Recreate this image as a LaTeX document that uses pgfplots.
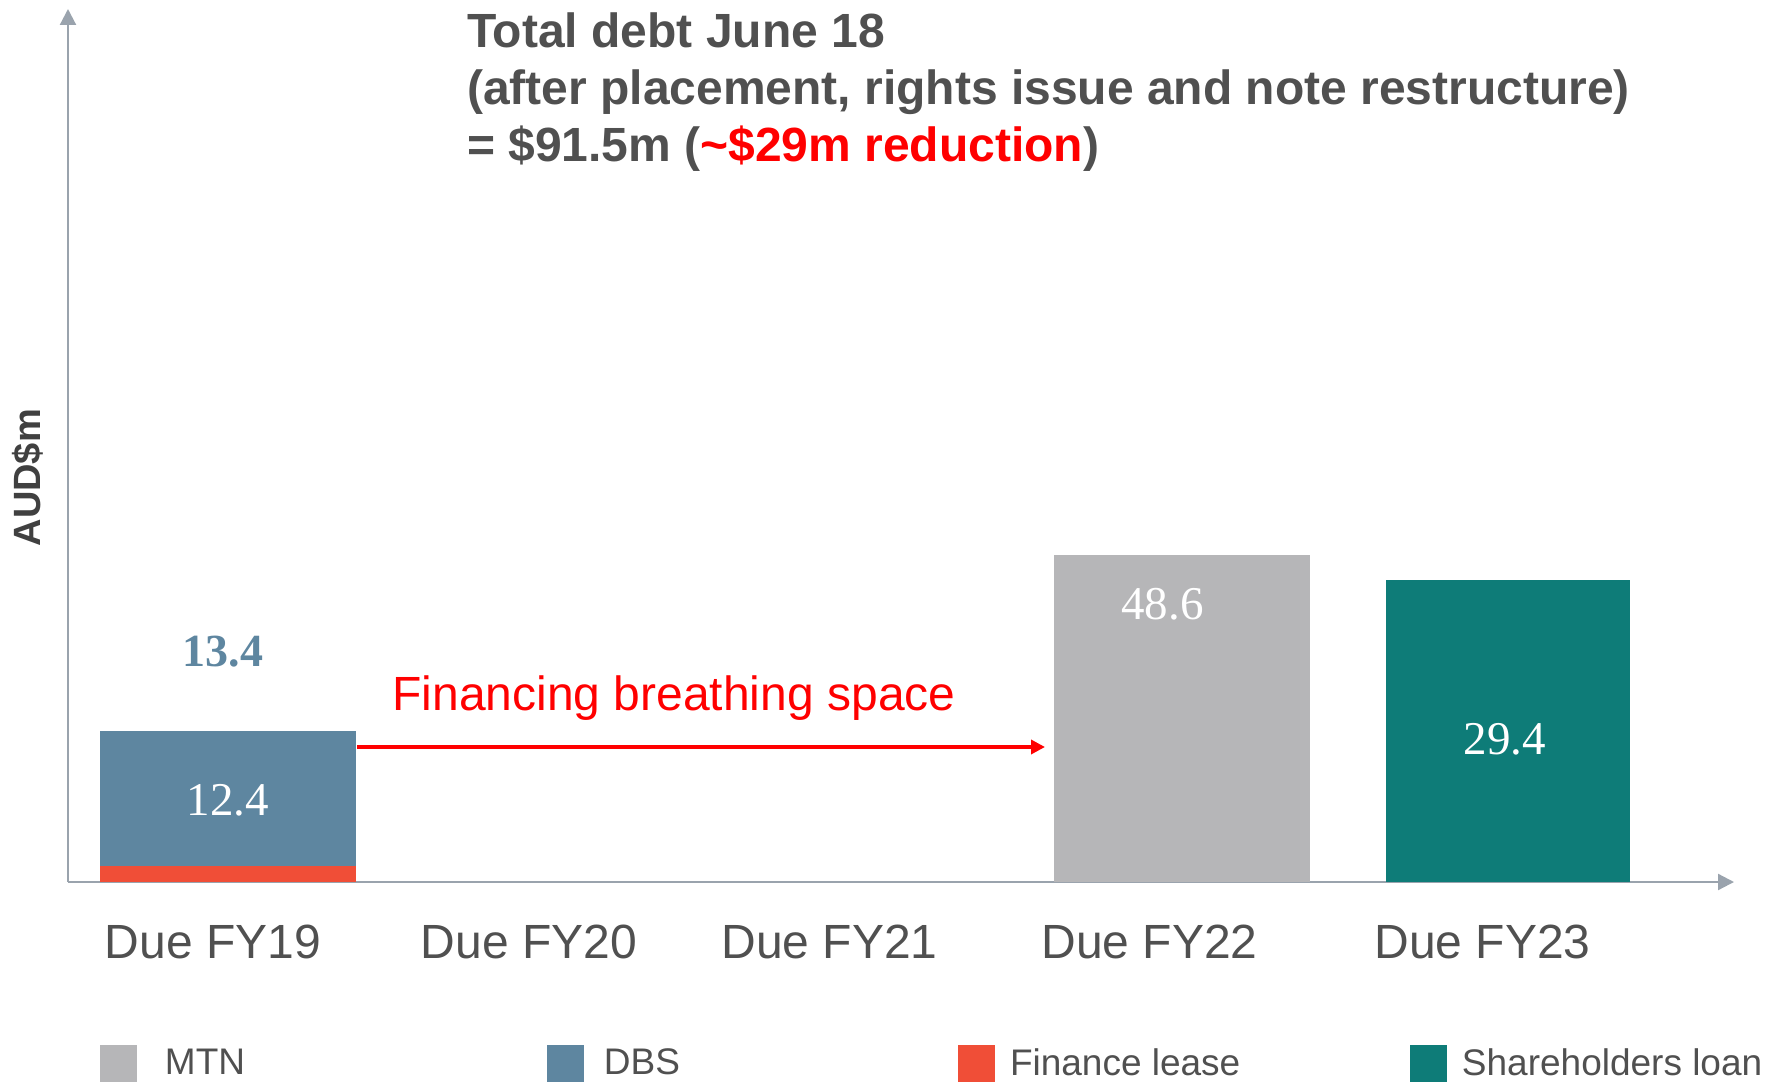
\documentclass[border=0pt]{standalone}
\usepackage{pgfplots}
\pgfplotsset{compat=1.18}
\usetikzlibrary{arrows.meta}
\usepackage{fontspec}
\setmainfont{Liberation Sans}
\newfontfamily\seriffont{Liberation Serif}
\definecolor{mtn}{HTML}{B6B6B8}
\definecolor{dbs}{HTML}{5E86A0}
\definecolor{lease}{HTML}{F04E37}
\definecolor{share}{HTML}{0E7C78}
\definecolor{txt}{HTML}{505050}
\definecolor{axgray}{HTML}{9AA3AD}
\definecolor{redtxt}{HTML}{FF0000}
\begin{document}
\begin{tikzpicture}[x=1pt,y=1pt]
\useasboundingbox (0,0) rectangle (888.5,541.5);
\begin{axis}[
  at={(34pt,100.5pt)}, anchor=south west,
  scale only axis, width=833pt, height=436.5pt,
  xmin=-0.5, xmax=4.706, ymin=0, ymax=87.3,
  axis lines=left,
  axis line style={draw=axgray, line width=1.1pt, -{Triangle[length=8pt,width=8pt]}},
  ybar stacked, bar width=0.8,
  every axis plot/.append style={draw=none},
  xtick={-0.047,0.94,1.88,2.88,3.92},
  xticklabels={Due FY19,Due FY20,Due FY21,Due FY22,Due FY23},
  ytick=\empty,
  major tick length=0pt,
  xticklabel style={anchor=center, yshift=-30pt, font=\fontsize{24}{24}\selectfont, text=txt},
  ylabel={AUD\$m},
  ylabel style={at={(axis description cs:-0.024,0.463)}, anchor=center, rotate=0, font=\bfseries\fontsize{19}{19}\selectfont, text=black!75},
  legend columns=4,
  legend style={draw=none, fill=none, inner sep=0pt, outer sep=0pt,
    at={(0.0192,-0.2075)}, anchor=west,
    nodes={inner sep=0pt, text=txt, font=\fontsize{18.5}{18.5}\selectfont},
    column sep=0pt,
    /tikz/every even column/.style={column sep=0pt},
    /tikz/every odd column/.style={column sep=0pt}},
]
% stacked bar heights as drawn (arbitrary units, no y scale shown)
\addplot[fill=lease, forget plot] coordinates {(0,1.6) (2.98,0) (4,0)};
\addplot[fill=dbs, forget plot] coordinates {(0,13.5) (2.98,0) (4,0)};
\addplot[fill=mtn, forget plot] coordinates {(0,0) (2.98,32.7) (4,0)};
\addplot[fill=share, forget plot, bar width=0.76] coordinates {(0,0) (2.98,0) (4,30.2)};

\addlegendimage{legend image code/.code={\fill[mtn] (0pt,-9.25pt) rectangle (18.5pt,9.25pt); \path (32.5pt,0pt);}}
\addlegendentry{MTN}
\addlegendimage{legend image code/.code={\path (-150.9pt,0pt); \fill[dbs] (0pt,-9.25pt) rectangle (18.5pt,9.25pt); \path (28.5pt,0pt);}}
\addlegendentry{DBS}
\addlegendimage{legend image code/.code={\path (-139pt,0pt); \fill[lease] (0pt,-9.25pt) rectangle (18.5pt,9.25pt); \path (26pt,0pt);}}
\addlegendentry{Finance lease}
\addlegendimage{legend image code/.code={\path (-84.8pt,0pt); \fill[share] (0pt,-9.25pt) rectangle (18.5pt,9.25pt); \path (26pt,0pt);}}
\addlegendentry{Shareholders loan}

\coordinate (lA) at (axis cs:-0.016,23.0);
\coordinate (lB) at (axis cs:0,8.2);
\coordinate (lC) at (axis cs:2.92,27.8);
\coordinate (lD) at (axis cs:3.99,14.3);
\end{axis}
% value labels
\node[text=dbs, font=\seriffont\bfseries\fontsize{23}{23}\selectfont] at (lA) {13.4};
\node[text=white, font=\seriffont\fontsize{23.5}{23.5}\selectfont] at (lB) {12.4};
\node[text=white, font=\seriffont\fontsize{23.5}{23.5}\selectfont] at (lC) {48.6};
\node[text=white, font=\seriffont\fontsize{23.5}{23.5}\selectfont] at (lD) {29.4};
% annotations
\draw[redtxt, line width=1.7pt, -{Triangle[length=7pt,width=7pt]}] (178.5,168) -- (522.5,168);
\node[text=redtxt, font=\fontsize{24}{24}\selectfont] at (337,192.3) {Financing breathing space};
\node[anchor=base west, text=txt, font=\bfseries\fontsize{24}{24}\selectfont] at (230,517.5) {Total debt June 18};
\node[anchor=base west, text=txt, font=\bfseries\fontsize{24}{24}\selectfont] at (230,489) {(after placement, rights issue and note restructure)};
\node[anchor=base west, text=txt, font=\bfseries\fontsize{24}{24}\selectfont] at (230,460.5) {= \$91.5m (\textcolor{redtxt}{\textasciitilde\$29m reduction})};
\end{tikzpicture}
\end{document}
